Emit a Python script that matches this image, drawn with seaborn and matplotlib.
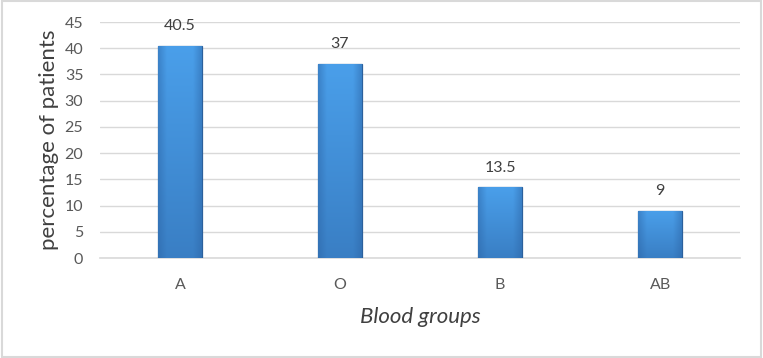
import matplotlib
matplotlib.use("Agg")
import matplotlib.pyplot as plt
import seaborn as sns
import numpy as np
import pandas as pd
from matplotlib.patches import Rectangle

groups = ["A", "O", "B", "AB"]
percent = [40.5, 37, 13.5, 9]
label_texts = ["40.5", "37", "13.5", "9"]
yticks = [0, 5, 10, 15, 20, 25, 30, 35, 40, 45]

sns.set_theme(style="white")
plt.rcParams['font.family'] = ['Lato', 'DejaVu Sans']

df = pd.DataFrame({"group": groups, "percent": percent})

fig = plt.figure(figsize=(7.63, 3.58), dpi=100)
ax = fig.add_axes([0.131, 0.279, 0.839, 0.6595])

sns.barplot(data=df, x="group", y="percent", ax=ax, color="#3f8ad6",
            width=0.27, edgecolor="#2b609c", linewidth=0.9, saturation=1, zorder=3)

# gradient overlay on bars (lighter upper-centre, darker towards edges and bottom)
nx, ny = 64, 128
gx = np.linspace(0, 1, nx)
gy = np.linspace(0, 1, ny)[:, None]  # 0 = top
horiz = 1 - np.clip(np.abs(gx - 0.5) * 2 - 0.6, 0, 1) * 1.2
vert = 1 - gy * 0.55
shade = np.clip(horiz[None, :] * vert, 0, 1)
cmap = matplotlib.colors.LinearSegmentedColormap.from_list("b", ["#2c64a5", "#4a9fea"])
for p in ax.patches:
    x0, y0 = p.get_x(), p.get_y()
    w, h = p.get_width(), p.get_height()
    im = ax.imshow(shade, extent=[x0, x0 + w, y0, y0 + h], origin="upper",
                   aspect="auto", cmap=cmap, vmin=0, vmax=1, zorder=3.5,
                   interpolation="bilinear")
    im.set_clip_path(p)

for i, (v, t) in enumerate(zip(percent, label_texts)):
    ax.annotate(t, (i, v), xytext=(0, 9), textcoords="offset points",
                ha="center", va="bottom", fontsize=11.5, color="#404040")

ax.set_ylim(0, 45)
ax.set_xlim(-0.5, 3.5)
ax.set_yticks(yticks)
ax.set_yticklabels([str(y) for y in yticks])
ax.yaxis.grid(True, color="#d9d9d9", linewidth=1.0, zorder=0)
ax.set_axisbelow(True)
for s in ["top", "right", "left"]:
    ax.spines[s].set_visible(False)
ax.spines["bottom"].set_color("#d9d9d9")
ax.spines["bottom"].set_linewidth(1.2)
ax.tick_params(axis="both", length=0, labelsize=11.5, colors="#595959")
ax.tick_params(axis="x", pad=14)
ax.tick_params(axis="y", pad=12)
ax.set_xlabel("Blood groups", fontsize=16, fontstyle="italic", color="#404040", labelpad=11)
ax.set_ylabel("percentage of patients", fontsize=16, color="#404040", labelpad=4)

fig.patches.append(Rectangle((0.002, 0.003), 0.996, 0.994, transform=fig.transFigure,
                             fill=False, edgecolor="#d9d9d9", linewidth=1.5))

fig.savefig("out.png", dpi=100)
